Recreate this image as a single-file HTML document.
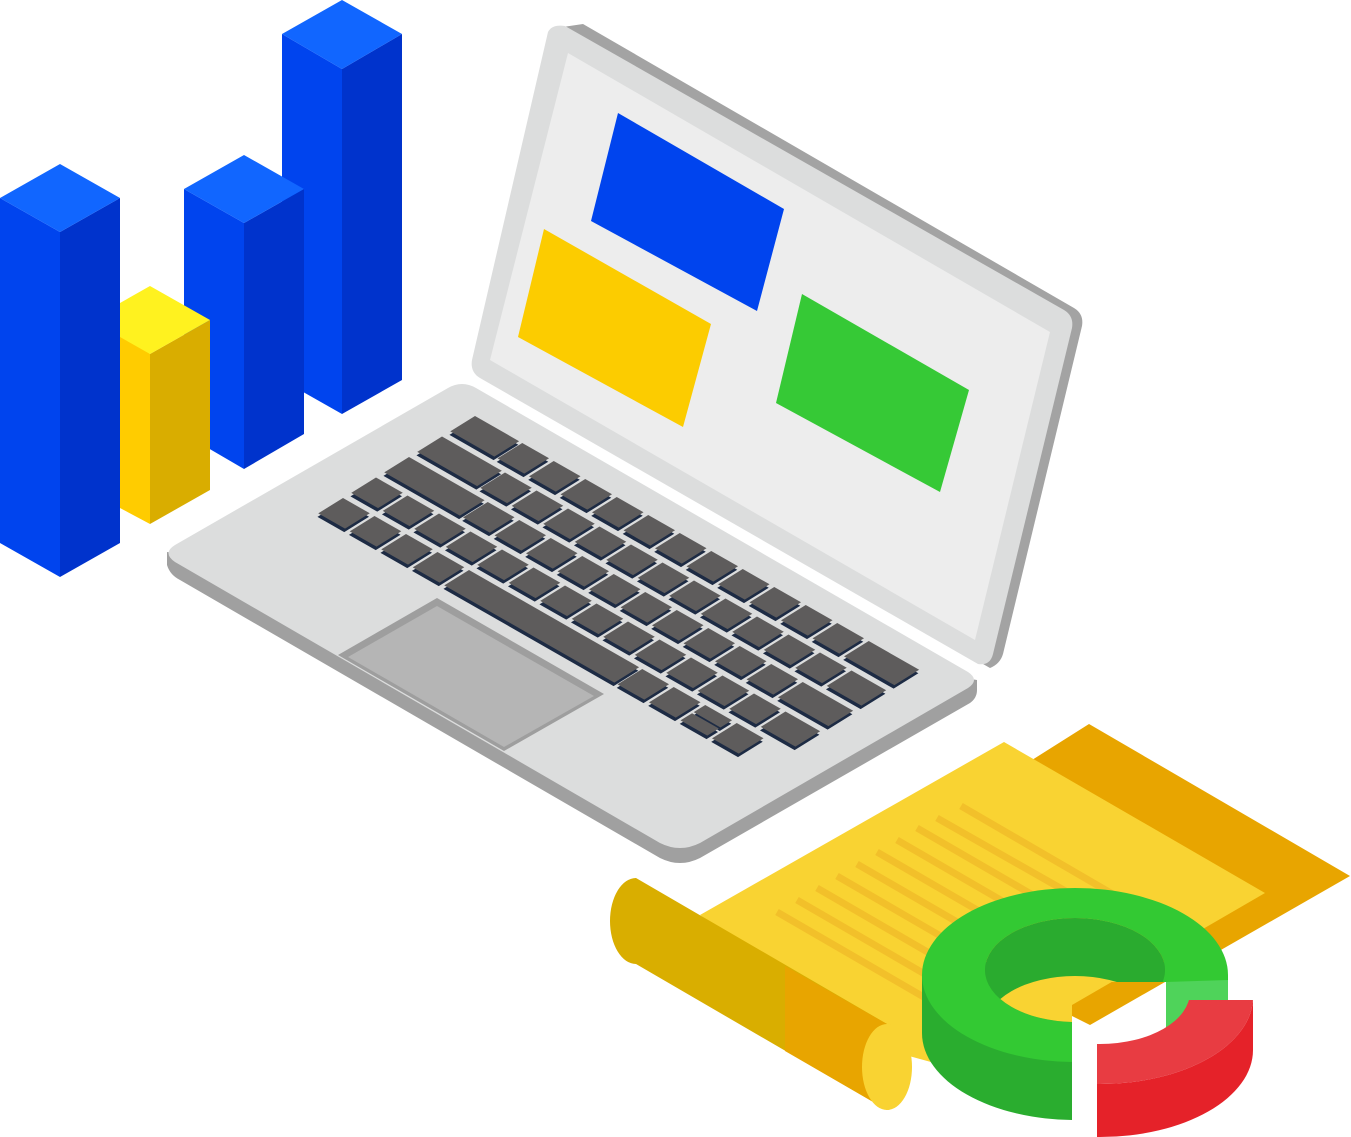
<!DOCTYPE html>
<html><head><meta charset="utf-8"><style>html,body{margin:0;padding:0;background:#fff}svg{display:block}</style></head>
<body>
<svg width="1351" height="1137" viewBox="0 0 1351 1137" xmlns="http://www.w3.org/2000/svg">
<defs>
<clipPath id="gclip"><path d="M0 0H1351V982H1072V1137H0Z"/></clipPath>
<clipPath id="rclip"><rect x="1097" y="1000" width="260" height="140"/></clipPath>
<clipPath id="ghole"><ellipse cx="1075" cy="970" rx="90" ry="52"/></clipPath>
</defs>

<!-- bars -->
<polygon points="282,34 342,69 342,414 282,380" fill="#0044ee"/>
<polygon points="342,69 402,34 402,380 342,414" fill="#0033cc"/>
<polygon points="282,34 342,0 402,34 342,69" fill="#1166ff"/>

<polygon points="184,189 244,223 244,469 184,434" fill="#0044ee"/>
<polygon points="244,223 304,189 304,434 244,469" fill="#0033cc"/>
<polygon points="184,189 244,155 304,189 244,223" fill="#1166ff"/>

<polygon points="120,320 150,354 150,524 120,508" fill="#ffcc00"/>
<polygon points="150,354 210,320 210,490 150,524" fill="#d9ad00"/>
<polygon points="90,320 150,286 210,320 150,354" fill="#fff21f"/>

<polygon points="0,198 60,232 60,577 0,543" fill="#0044ee"/>
<polygon points="60,232 120,198 120,543 60,577" fill="#0033cc"/>
<polygon points="0,198 60,164 120,198 60,232" fill="#1166ff"/>

<!-- laptop base -->
<path d="M167,552 L167,565 Q170,575 180,580 L660,858 Q680,868 700,858 L970,703 Q977,698 977,690 L977,680 Z" fill="#a0a0a0"/>
<path d="M175,545 L448,388 Q462,380 476,388 L968,672 Q980,680 968,688 L700,843 Q680,853 660,843 L175,562 Q162,553 175,545 Z" fill="#dcdddd"/>

<!-- lid -->
<path d="M556,28 L583,24 L1074,308 Q1084,314 1082,326 L1003,654 Q1000,664 990,668 L485,378 Q475,372 477,360 L548,40 Z" fill="#a3a3a3"/>
<path d="M548,32 Q552,24 565,26 L1064,310 Q1074,316 1072,328 L993,654 Q990,666 978,664 L480,378 Q470,372 472,360 Z" fill="#dcdddd"/>
<polygon points="568,53 1050,332 975,640 490,360" fill="#ededed"/>
<polygon points="618,113 784,209 757,311 591,221" fill="#0044ee"/>
<polygon points="544,229 711,324 683,427 518,337" fill="#fccc00"/>
<polygon points="802,294 969,390 940,492 776,403" fill="#36c936"/>

<!-- touchpad -->
<polygon points="338,655 437,598 604,694 504,751" fill="#9e9e9e"/>
<polygon points="348,657 437,606 594,696 504,747" fill="#b5b5b5"/>

<!-- keys -->
<g transform="matrix(31.5,18,-33,20.5,475,416)">
<g fill="#1d2b44" transform="translate(0.08,0.1)">
<rect x="0" y="0" width="1.4" height="0.75"/><rect x="1.5" y="0" width="0.85" height="0.75"/><rect x="2.5" y="0" width="0.85" height="0.75"/><rect x="3.5" y="0" width="0.85" height="0.75"/><rect x="4.5" y="0" width="0.85" height="0.75"/><rect x="5.5" y="0" width="0.85" height="0.75"/><rect x="6.5" y="0" width="0.85" height="0.75"/><rect x="7.5" y="0" width="0.85" height="0.75"/><rect x="8.5" y="0" width="0.85" height="0.75"/><rect x="9.5" y="0" width="0.85" height="0.75"/><rect x="10.5" y="0" width="0.85" height="0.75"/><rect x="11.5" y="0" width="0.85" height="0.75"/><rect x="12.5" y="0" width="1.6" height="0.75"/>
<rect x="0" y="1" width="1.9" height="0.75"/><rect x="2" y="1" width="0.85" height="0.75"/><rect x="3" y="1" width="0.85" height="0.75"/><rect x="4" y="1" width="0.85" height="0.75"/><rect x="5" y="1" width="0.85" height="0.75"/><rect x="6" y="1" width="0.85" height="0.75"/><rect x="7" y="1" width="0.85" height="0.75"/><rect x="8" y="1" width="0.85" height="0.75"/><rect x="9" y="1" width="0.85" height="0.75"/><rect x="10" y="1" width="0.85" height="0.75"/><rect x="11" y="1" width="0.85" height="0.75"/><rect x="12" y="1" width="0.85" height="0.75"/><rect x="13" y="1" width="1.1" height="0.75"/>
<rect x="0" y="2" width="2.4" height="0.75"/><rect x="2.5" y="2" width="0.85" height="0.75"/><rect x="3.5" y="2" width="0.85" height="0.75"/><rect x="4.5" y="2" width="0.85" height="0.75"/><rect x="5.5" y="2" width="0.85" height="0.75"/><rect x="6.5" y="2" width="0.85" height="0.75"/><rect x="7.5" y="2" width="0.85" height="0.75"/><rect x="8.5" y="2" width="0.85" height="0.75"/><rect x="9.5" y="2" width="0.85" height="0.75"/><rect x="10.5" y="2" width="0.85" height="0.75"/><rect x="11.5" y="2" width="0.85" height="0.75"/><rect x="12.5" y="2" width="1.6" height="0.75"/>
<rect x="0" y="3" width="0.85" height="0.75"/><rect x="1" y="3" width="0.85" height="0.75"/><rect x="2" y="3" width="0.85" height="0.75"/><rect x="3" y="3" width="0.85" height="0.75"/><rect x="4" y="3" width="0.85" height="0.75"/><rect x="5" y="3" width="0.85" height="0.75"/><rect x="6" y="3" width="0.85" height="0.75"/><rect x="7" y="3" width="0.85" height="0.75"/><rect x="8" y="3" width="0.85" height="0.75"/><rect x="9" y="3" width="0.85" height="0.75"/><rect x="10" y="3" width="0.85" height="0.75"/><rect x="11" y="3" width="0.85" height="0.75"/><rect x="12" y="3" width="0.85" height="0.75"/><rect x="13" y="3" width="1.1" height="0.75"/>
<rect x="0" y="4" width="0.85" height="0.75"/><rect x="1" y="4" width="0.85" height="0.75"/><rect x="2" y="4" width="0.85" height="0.75"/><rect x="3" y="4" width="0.85" height="0.75"/><rect x="4" y="4" width="5.4" height="0.75"/><rect x="9.5" y="4" width="0.85" height="0.75"/><rect x="10.5" y="4" width="0.85" height="0.75"/><rect x="11.5" y="4" width="0.85" height="0.35"/><rect x="11.5" y="4.4" width="0.85" height="0.35"/><rect x="12.5" y="4" width="0.85" height="0.75"/>
</g>
<g fill="#5e5c5c">
<rect x="0" y="0" width="1.4" height="0.75"/><rect x="1.5" y="0" width="0.85" height="0.75"/><rect x="2.5" y="0" width="0.85" height="0.75"/><rect x="3.5" y="0" width="0.85" height="0.75"/><rect x="4.5" y="0" width="0.85" height="0.75"/><rect x="5.5" y="0" width="0.85" height="0.75"/><rect x="6.5" y="0" width="0.85" height="0.75"/><rect x="7.5" y="0" width="0.85" height="0.75"/><rect x="8.5" y="0" width="0.85" height="0.75"/><rect x="9.5" y="0" width="0.85" height="0.75"/><rect x="10.5" y="0" width="0.85" height="0.75"/><rect x="11.5" y="0" width="0.85" height="0.75"/><rect x="12.5" y="0" width="1.6" height="0.75"/>
<rect x="0" y="1" width="1.9" height="0.75"/><rect x="2" y="1" width="0.85" height="0.75"/><rect x="3" y="1" width="0.85" height="0.75"/><rect x="4" y="1" width="0.85" height="0.75"/><rect x="5" y="1" width="0.85" height="0.75"/><rect x="6" y="1" width="0.85" height="0.75"/><rect x="7" y="1" width="0.85" height="0.75"/><rect x="8" y="1" width="0.85" height="0.75"/><rect x="9" y="1" width="0.85" height="0.75"/><rect x="10" y="1" width="0.85" height="0.75"/><rect x="11" y="1" width="0.85" height="0.75"/><rect x="12" y="1" width="0.85" height="0.75"/><rect x="13" y="1" width="1.1" height="0.75"/>
<rect x="0" y="2" width="2.4" height="0.75"/><rect x="2.5" y="2" width="0.85" height="0.75"/><rect x="3.5" y="2" width="0.85" height="0.75"/><rect x="4.5" y="2" width="0.85" height="0.75"/><rect x="5.5" y="2" width="0.85" height="0.75"/><rect x="6.5" y="2" width="0.85" height="0.75"/><rect x="7.5" y="2" width="0.85" height="0.75"/><rect x="8.5" y="2" width="0.85" height="0.75"/><rect x="9.5" y="2" width="0.85" height="0.75"/><rect x="10.5" y="2" width="0.85" height="0.75"/><rect x="11.5" y="2" width="0.85" height="0.75"/><rect x="12.5" y="2" width="1.6" height="0.75"/>
<rect x="0" y="3" width="0.85" height="0.75"/><rect x="1" y="3" width="0.85" height="0.75"/><rect x="2" y="3" width="0.85" height="0.75"/><rect x="3" y="3" width="0.85" height="0.75"/><rect x="4" y="3" width="0.85" height="0.75"/><rect x="5" y="3" width="0.85" height="0.75"/><rect x="6" y="3" width="0.85" height="0.75"/><rect x="7" y="3" width="0.85" height="0.75"/><rect x="8" y="3" width="0.85" height="0.75"/><rect x="9" y="3" width="0.85" height="0.75"/><rect x="10" y="3" width="0.85" height="0.75"/><rect x="11" y="3" width="0.85" height="0.75"/><rect x="12" y="3" width="0.85" height="0.75"/><rect x="13" y="3" width="1.1" height="0.75"/>
<rect x="0" y="4" width="0.85" height="0.75"/><rect x="1" y="4" width="0.85" height="0.75"/><rect x="2" y="4" width="0.85" height="0.75"/><rect x="3" y="4" width="0.85" height="0.75"/><rect x="4" y="4" width="5.4" height="0.75"/><rect x="9.5" y="4" width="0.85" height="0.75"/><rect x="10.5" y="4" width="0.85" height="0.75"/><rect x="11.5" y="4" width="0.85" height="0.35"/><rect x="11.5" y="4.4" width="0.85" height="0.35"/><rect x="12.5" y="4" width="0.85" height="0.75"/>
</g>
</g>

<!-- document -->
<polygon points="1032,760 1089,724 1350,876 1090,1025 1000,980" fill="#e8a500"/>
<polygon points="700,915 1004,742 1265,893 960,1070 887,1050" fill="#f9d332"/>
<g stroke="#f2c02a" stroke-width="7">
<line x1="777" y1="912" x2="960" y2="1018"/>
<line x1="797" y1="900" x2="980" y2="1006"/>
<line x1="817" y1="888" x2="1000" y2="994"/>
<line x1="837" y1="876" x2="1020" y2="982"/>
<line x1="857" y1="864" x2="1040" y2="970"/>
<line x1="877" y1="852" x2="1060" y2="958"/>
<line x1="897" y1="840" x2="1080" y2="946"/>
<line x1="917" y1="828" x2="1100" y2="934"/>
<line x1="937" y1="818" x2="1120" y2="922"/>
<line x1="961" y1="806" x2="1140" y2="910"/>
</g>
<!-- roll -->
<path d="M636,878 L887,1024 L887,1110 L636,964 A26,43 0 0 1 636,878 Z" fill="#d9ae00"/>
<polygon points="785,966 887,1024 887,1110 785,1051" fill="#e8a500"/>
<ellipse cx="887" cy="1067" rx="25" ry="43" fill="#f9d332"/>

<!-- green ring -->
<g clip-path="url(#gclip)">
<ellipse cx="1075" cy="1033" rx="153" ry="87" fill="#2aad2f"/>
<rect x="922" y="975" width="306" height="58" fill="#2aad2f"/>
<path d="M922,975 A153,87 0 1 0 1228,975 A153,87 0 1 0 922,975 Z M985,970 A90,52 0 1 1 1165,970 A90,52 0 1 1 985,970 Z" fill="#33c933" fill-rule="evenodd"/>
<ellipse cx="1075" cy="970" rx="90" ry="52" fill="#2aab2f"/>
<ellipse cx="1075" cy="1028" rx="90" ry="52" fill="#f9d332" clip-path="url(#ghole)"/>
</g>
<polygon points="1166,982 1228,980 1228,1010 1166,1028" fill="#4fd35a"/>

<!-- red piece -->
<g clip-path="url(#rclip)">
<path d="M1253,997 L1253,1050 A153,87 0 0 1 947,1050 L947,997 A153,87 0 0 0 1253,997 Z" fill="#e52229"/>
<path d="M947,997 A153,87 0 1 0 1253,997 A153,87 0 1 0 947,997 Z M1010,992 A90,52 0 1 1 1190,992 A90,52 0 1 1 1010,992 Z" fill="#e83c42" fill-rule="evenodd"/>
</g>
</svg>
</body></html>
